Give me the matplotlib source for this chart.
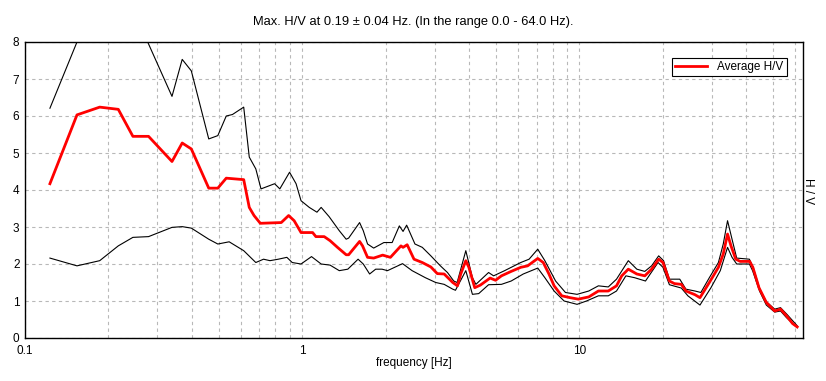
import matplotlib
matplotlib.use("Agg")
import matplotlib.pyplot as plt
from matplotlib.ticker import FixedLocator, FixedFormatter, NullFormatter, LogLocator

plt.rcParams['font.family'] = ['Liberation Sans', 'DejaVu Sans']

title = "Max. H/V at 0.19 \u00b1 0.04 Hz. (In the range 0.0 - 64.0 Hz)."
xlabel = "frequency [Hz]"
ylabel = "H / V"
legend_label = "Average H/V"
xtick_vals = [0.1, 1, 10]
xtick_labels = ['0.1', '1', '10']

avg_f = [0.123, 0.154, 0.186, 0.217, 0.245, 0.279, 0.339, 0.369, 0.398, 0.46, 0.496, 0.532, 0.615,
         0.644, 0.67, 0.706, 0.84, 0.893, 0.935, 0.99, 1.09, 1.12, 1.20, 1.26, 1.34, 1.44, 1.47,
         1.61, 1.65, 1.72, 1.81, 1.95, 2.08, 2.27, 2.31, 2.39, 2.53, 2.71, 2.91, 3.07, 3.25, 3.49,
         3.63, 3.73, 3.89, 3.99, 4.19, 4.39, 4.76, 4.98, 5.23, 5.67, 6.14, 6.5, 7.07, 7.4, 7.76,
         8.1, 8.63, 9.25, 9.9, 10.8, 11.7, 12.7, 13.6, 14.2, 15.0, 16.1, 17.2, 18.2, 19.3, 20.0,
         21.1, 22.0, 23.3, 24.2, 26.1, 27.2, 29.4, 31.7, 33.0, 34.2, 35.2, 36.6, 38.0, 41.1, 42.2,
         44.4, 47.2, 50.6, 53.1, 55.8, 58.7, 61.0]
avg_v = [4.17, 6.03, 6.24, 6.18, 5.45, 5.45, 4.77, 5.27, 5.11, 4.05, 4.05, 4.32, 4.28,
         3.53, 3.31, 3.10, 3.12, 3.31, 3.17, 2.85, 2.85, 2.74, 2.74, 2.63, 2.45, 2.25, 2.25,
         2.61, 2.49, 2.18, 2.16, 2.24, 2.18, 2.49, 2.45, 2.52, 2.13, 2.04, 1.92, 1.74, 1.73, 1.50,
         1.41, 1.73, 2.09, 1.91, 1.36, 1.43, 1.62, 1.56, 1.68, 1.80, 1.91, 1.95, 2.15, 2.04, 1.73,
         1.41, 1.14, 1.09, 1.05, 1.11, 1.27, 1.27, 1.41, 1.68, 1.86, 1.73, 1.68, 1.86, 2.13, 2.04,
         1.54, 1.47, 1.45, 1.27, 1.17, 1.09, 1.50, 1.91, 2.27, 2.81, 2.49, 2.13, 2.07, 2.07, 1.91,
         1.36, 0.96, 0.73, 0.78, 0.60, 0.39, 0.30]

up_f = [0.123, 0.154, 0.186, 0.217, 0.277, 0.339, 0.369, 0.398, 0.46, 0.496, 0.532, 0.56, 0.615,
        0.644, 0.68, 0.71, 0.795, 0.83, 0.90, 0.95, 0.99, 1.06, 1.13, 1.17, 1.25, 1.36, 1.44,
        1.47, 1.61, 1.66, 1.72, 1.81, 1.97, 2.11, 2.24, 2.31, 2.38, 2.55, 2.71, 2.91, 3.15, 3.34,
        3.52, 3.62, 3.89, 4.11, 4.23, 4.70, 4.90, 5.37, 6.14, 6.58, 7.07, 7.5, 8.2, 8.9, 9.8,
        10.8, 11.7, 12.7, 13.6, 15.0, 16.1, 17.2, 18.2, 19.3, 20.1, 21.1, 23.0, 24.2, 26.1, 27.4,
        29.4, 31.7, 33.0, 34.2, 35.5, 36.9, 41.0, 42.3, 44.7, 47.2, 50.6, 53.1, 56.0, 61.0]
up_v = [6.21, 8.0, 8.6, 8.6, 8.0, 6.53, 7.53, 7.22, 5.38, 5.47, 6.0, 6.04, 6.24,
        4.89, 4.57, 4.03, 4.17, 4.03, 4.48, 4.17, 3.71, 3.53, 3.40, 3.53, 3.28, 2.90, 2.67,
        2.70, 3.12, 2.90, 2.54, 2.43, 2.58, 2.58, 3.03, 2.88, 3.05, 2.54, 2.45, 2.22, 1.95, 1.77,
        1.54, 1.50, 2.36, 1.63, 1.45, 1.77, 1.68, 1.82, 2.04, 2.13, 2.40, 2.09, 1.54, 1.23, 1.18,
        1.27, 1.41, 1.38, 1.59, 2.09, 1.86, 1.80, 1.95, 2.22, 2.09, 1.59, 1.59, 1.32, 1.27, 1.23,
        1.63, 2.04, 2.54, 3.17, 2.67, 2.16, 2.13, 1.91, 1.32, 0.98, 0.78, 0.82, 0.64, 0.33]

lo_f = [0.123, 0.154, 0.186, 0.217, 0.245, 0.279, 0.339, 0.369, 0.398, 0.46, 0.496, 0.545, 0.615,
        0.68, 0.725, 0.765, 0.82, 0.88, 0.92, 0.99, 1.08, 1.17, 1.26, 1.36, 1.46, 1.59, 1.66,
        1.75, 1.84, 1.94, 2.03, 2.30, 2.49, 2.78, 3.03, 3.25, 3.49, 3.57, 3.89, 4.11, 4.33, 4.70,
        5.23, 5.67, 6.27, 7.07, 7.5, 8.1, 8.8, 9.8, 10.6, 11.7, 12.7, 13.6, 14.7, 15.8, 17.3,
        19.2, 20.0, 21.1, 23.3, 24.6, 27.2, 29.8, 32.2, 34.2, 35.5, 36.9, 41.0, 42.1, 44.6, 47.2,
        50.6, 53.1, 55.8, 61.0]
lo_v = [2.16, 1.95, 2.09, 2.49, 2.72, 2.74, 2.99, 3.01, 2.97, 2.67, 2.54, 2.60, 2.36,
        2.04, 2.13, 2.09, 2.13, 2.18, 2.04, 2.00, 2.20, 2.00, 1.97, 1.82, 1.86, 2.13, 2.00,
        1.73, 1.86, 1.86, 1.82, 2.01, 1.82, 1.63, 1.50, 1.45, 1.32, 1.29, 1.82, 1.18, 1.20, 1.44,
        1.45, 1.54, 1.73, 1.89, 1.63, 1.27, 1.00, 0.91, 1.00, 1.14, 1.14, 1.27, 1.68, 1.63, 1.54,
        2.04, 1.91, 1.44, 1.35, 1.14, 0.89, 1.36, 1.82, 2.45, 2.18, 2.00, 2.00, 1.82, 1.27, 0.89,
        0.70, 0.73, 0.55, 0.28]

fig = plt.figure(figsize=(8.26, 3.81), dpi=100)
ax = fig.add_axes([25/826, 1-338/381, (803-25)/826, (338-42)/381])

ax.plot(up_f, up_v, color='black', lw=0.8)
ax.plot(lo_f, lo_v, color='black', lw=0.8)
ax.plot(avg_f, avg_v, color='#ff0000', lw=2.0, label=legend_label)

ax.set_xscale('log')
ax.set_xlim(0.1, 64)
ax.set_ylim(0, 8)
ax.xaxis.set_major_locator(FixedLocator(xtick_vals))
ax.xaxis.set_major_formatter(FixedFormatter(xtick_labels))
ax.xaxis.set_minor_locator(LogLocator(base=10, subs=range(2, 10), numticks=20))
ax.xaxis.set_minor_formatter(NullFormatter())
ax.set_yticks(range(0, 9))
ax.grid(True, which='both', axis='x', color='#b8b8b8', ls=(0, (3, 3)), lw=0.8)
ax.grid(True, which='major', axis='y', color='#b8b8b8', ls=(0, (3, 3)), lw=0.8)
ax.tick_params(which='both', length=0, labelsize=8.5)
ax.tick_params(axis='x', pad=5)
ax.tick_params(axis='y', pad=4)
for s in ax.spines.values():
    s.set_color('black')
    s.set_linewidth(1.0)

ax.set_xlabel(xlabel, fontsize=8.5, labelpad=0)
fig.text(0.5, 1-22/381, title, ha='center', va='center', fontsize=9.3)
fig.text(808/826, 1-191/381, ylabel, rotation=-90, ha='center', va='center', fontsize=8.5)

leg = ax.legend(loc='upper right', bbox_to_anchor=(0.979, 0.946), borderaxespad=0,
                fancybox=False, framealpha=1, edgecolor='black', fontsize=8.5,
                handlelength=2.7, borderpad=0.25, handletextpad=0.9)
leg.get_frame().set_linewidth(0.8)

fig.savefig('out.png', dpi=100)
